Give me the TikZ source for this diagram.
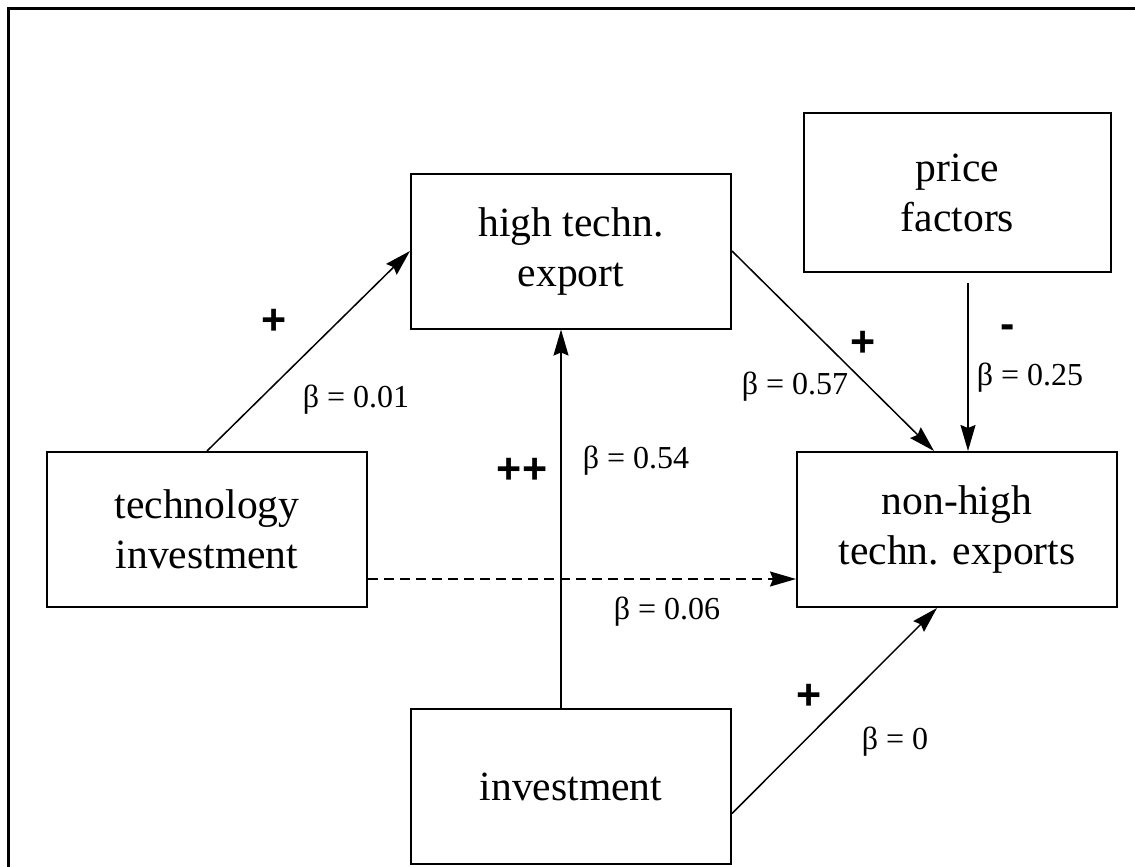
\documentclass[tikz,border=0pt]{standalone}
\usepackage{fontspec}
\setmainfont{Liberation Serif}
\newfontfamily\signfamily{Liberation Sans}
\usetikzlibrary{calc,positioning,arrows.meta}
\newcommand{\boxsize}{\fontsize{20.8}{25}\selectfont}
\newcommand{\coefsize}{\fontsize{16}{19}\selectfont}
\newcommand{\signsize}{\signfamily\bfseries\fontsize{21.5}{25}\selectfont}

\begin{document}
\begin{tikzpicture}[x=0.5pt,y=-0.5pt,
    box/.style={draw, line width=1pt, minimum width=160pt, minimum height=77.5pt,
      inner sep=0pt, align=center, font=\boxsize},
    coef/.style={inner sep=0pt, font=\coefsize},
    sign/.style={inner sep=0pt, font=\signsize},
    link/.style={line width=0.75pt, -{Stealth[length=13pt,width=7.5pt,inset=1.5pt]}}]
  \useasboundingbox (0,0) rectangle (1135,867);
  % frame
  \draw[line width=1.5pt] (8.5,867) -- (8.5,8.5) -- (1135,8.5);
  % boxes
  \node[box] (high) at (571,251) {high techn.\\export};
  \node[box, minimum width=153.5pt, minimum height=79.5pt] (price) at (957.5,192.5) {price\\factors};
  \node[box] (techinv) at (207,529.5) {technology\\investment};
  \node[box] (nonhigh) at (957,529.5) {non-high\\techn. exports};
  \node[box] (invest) at (571,786.5) {investment};
  % paths
  \draw[link] (techinv.north) -- (high.west);
  \draw[link] (high.east) -- ($(nonhigh.north)+(-23,0)$);
  \draw[link] ($(invest.north)+(-10,0)$) -- ($(high.south)+(-10,0)$);
  \draw[link] ($(price.south)+(10.5,10)$) -- ($(nonhigh.north)+(11,0)$);
  \draw[link, dash pattern=on 5pt off 3pt] ($(techinv.east)+(0,49.5)$) -- ($(nonhigh.west)+(0,49.5)$);
  \draw[link] ($(invest.east)+(0,27)$) -- ($(nonhigh.south)+(-20,0)$);
  % signs and coefficients
  \node[sign] (s1) at (274,322) {+};
  \node[coef] (c1) at (356,400) {β = 0.01};
  \node[sign] (s2) at (522,471) {++};
  \node[coef] (c2) at (636,461) {β = 0.54};
  \node[sign] (s3) at (863,344) {+};
  \node[coef] (c3) at (795,387) {β = 0.57};
  \node[sign] (s4) at (1008,332) {-};
  \node[coef] (c4) at (1030,378) {β = 0.25};
  \node[coef] (c5) at (667,612) {β = 0.06};
  \node[sign] (s5) at (809,697) {+};
  \node[coef] (c6) at (895,742) {β = 0};
\end{tikzpicture}
\end{document}
